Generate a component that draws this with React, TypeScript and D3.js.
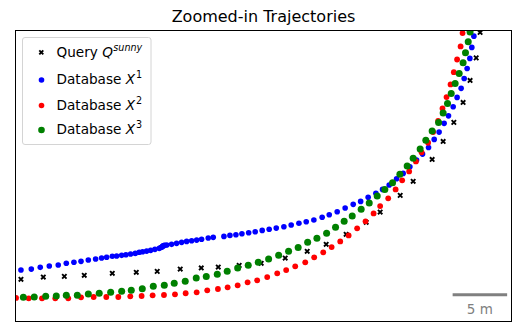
import React, { useEffect, useRef } from 'react';
import * as d3 from 'd3';

// trajectory points, metres (x east, y north)
const queryX = [0.50, 2.55, 4.48, 6.31, 8.88, 11.08, 13.00, 15.11, 17.04, 18.60, 20.52, 22.54, 24.74, 26.76, 28.50, 30.33, 32.17, 33.45, 35.29, 36.48, 38.22, 39.23, 40.21, 41.06, 41.70, 42.26, 42.62];
const queryY = [3.87, 4.08, 4.14, 4.24, 4.42, 4.51, 4.60, 4.81, 4.91, 5.00, 5.15, 5.34, 5.82, 6.44, 7.08, 8.00, 9.10, 10.04, 11.57, 12.86, 14.87, 16.52, 18.27, 20.10, 22.12, 24.19, 26.52];

const db1X = [0.50, 1.45, 2.27, 3.10, 3.92, 4.66, 5.36, 6.01, 6.68, 7.35, 7.90, 8.36, 8.88, 9.28, 9.74, 10.13, 10.56, 10.99, 11.35, 11.66, 12.03, 12.40, 12.79, 13.19, 13.34, 13.43, 13.50, 13.55, 13.62, 13.68, 13.87, 14.32, 14.78, 15.24, 15.70, 16.16, 16.62, 17.07, 17.68, 18.14, 19.12, 19.67, 20.22, 20.77, 21.39, 21.99, 22.63, 23.27, 23.92, 24.62, 25.29, 26.00, 26.67, 27.37, 28.13, 28.78, 29.51, 30.24, 30.98, 31.66, 32.35, 33.06, 33.67, 34.28, 34.96, 35.56, 36.18, 36.79, 37.34, 37.89, 38.41, 38.86, 39.32, 39.72, 40.15, 40.51, 40.88, 41.16, 41.43, 41.68, 41.86, 42.05];
const db1Y = [4.72, 4.81, 4.97, 5.09, 5.18, 5.34, 5.43, 5.52, 5.64, 5.73, 5.82, 5.89, 5.98, 6.01, 6.07, 6.13, 6.19, 6.25, 6.35, 6.40, 6.46, 6.53, 6.62, 6.71, 6.79, 6.83, 6.90, 6.94, 6.97, 7.00, 7.02, 7.08, 7.17, 7.26, 7.35, 7.41, 7.47, 7.54, 7.66, 7.72, 7.81, 7.90, 7.96, 8.05, 8.14, 8.23, 8.36, 8.46, 8.57, 8.69, 8.85, 9.01, 9.15, 9.31, 9.56, 9.79, 10.07, 10.41, 10.75, 11.02, 11.39, 11.76, 12.12, 12.52, 13.10, 13.59, 14.20, 14.81, 15.36, 15.97, 16.71, 17.38, 18.18, 18.87, 19.70, 20.56, 21.39, 22.30, 23.22, 24.14, 25.15, 26.18];

const db2X = [0.05, 1.21, 2.43, 3.65, 4.84, 6.01, 7.17, 8.33, 9.43, 10.53, 11.57, 12.58, 13.62, 14.63, 15.61, 16.62, 17.59, 18.57, 19.46, 20.38, 21.29, 22.17, 23.09, 24.01, 24.83, 25.66, 26.58, 27.40, 28.23, 29.00, 29.79, 30.56, 31.34, 32.11, 32.85, 33.45, 34.19, 34.87, 35.47, 36.11, 36.73, 37.25, 37.85, 38.31, 38.77, 39.17, 39.54, 39.91, 40.21, 40.51, 40.83, 41.01];
const db2Y = [2.16, 2.13, 2.13, 2.13, 2.13, 2.22, 2.25, 2.25, 2.25, 2.31, 2.34, 2.40, 2.43, 2.49, 2.59, 2.68, 2.86, 2.98, 3.14, 3.32, 3.59, 3.78, 4.08, 4.42, 4.72, 5.06, 5.43, 5.89, 6.35, 6.83, 7.35, 7.90, 8.55, 9.19, 9.92, 10.59, 11.30, 12.12, 12.95, 13.77, 14.69, 15.52, 16.40, 17.38, 18.41, 19.55, 20.59, 21.75, 22.88, 24.04, 25.24, 26.46];

const db3X = [0.72, 1.72, 2.77, 3.74, 4.66, 5.67, 6.68, 7.68, 8.73, 9.74, 10.62, 11.63, 12.64, 13.65, 14.56, 15.57, 16.58, 17.50, 18.51, 19.42, 20.38, 21.35, 22.27, 23.22, 24.14, 25.05, 25.93, 26.80, 27.65, 28.54, 29.36, 30.15, 30.89, 31.71, 32.45, 33.18, 33.88, 34.59, 35.26, 35.93, 36.48, 37.12, 37.64, 38.22, 38.81, 39.23, 39.63, 39.97, 40.33, 40.70, 41.06, 41.28, 41.53, 41.70];
const db3Y = [2.22, 2.25, 2.31, 2.34, 2.40, 2.40, 2.52, 2.59, 2.68, 2.77, 2.86, 3.01, 3.23, 3.32, 3.50, 3.69, 3.99, 4.14, 4.33, 4.60, 4.91, 5.15, 5.43, 5.73, 6.07, 6.44, 6.80, 7.26, 7.63, 8.09, 8.64, 9.19, 9.67, 10.29, 10.87, 11.51, 12.12, 12.73, 13.50, 14.26, 14.99, 15.82, 16.62, 17.47, 18.27, 19.12, 20.01, 20.93, 21.84, 22.76, 23.73, 24.65, 25.66, 26.57];

const seriesNames = ['Database', 'Database', 'Database'];
const seriesSups = ['1', '2', '3'];
const seriesColors = ['#0000ff', '#ff0000', '#008000'];
const scaleBarLength = 5; // metres

const W = 520;
const H = 336;
const font = '"DejaVu Sans", sans-serif';

const App = () => {
  const svgRef = useRef(null);

  useEffect(() => {
    const svg = d3.select(svgRef.current);
    svg.selectAll('*').remove();

    const margin = { top: 30.5, right: 8.5, bottom: 14.5, left: 15.5 };
    const x = d3.scaleLinear().domain([0, 45.5]).range([margin.left, W - margin.right]);
    const y = d3.scaleLinear().domain([0, 26.7]).range([H - margin.bottom, margin.top]);

    svg.append('defs').append('clipPath').attr('id', 'plotclip')
      .append('rect')
      .attr('x', x(0)).attr('y', y(26.7))
      .attr('width', x(45.5) - x(0)).attr('height', y(0) - y(26.7));

    // title
    svg.append('text')
      .attr('x', (x(0) + x(45.5)) / 2).attr('y', 22)
      .attr('text-anchor', 'middle')
      .style('font-family', font).style('font-size', '16px')
      .text('Zoomed-in Trajectories');

    const plot = svg.append('g').attr('clip-path', 'url(#plotclip)');

    const xMark = (g, cx, cy, s) => {
      g.append('path')
        .attr('d', `M${cx - s},${cy - s}L${cx + s},${cy + s}M${cx - s},${cy + s}L${cx + s},${cy - s}`)
        .attr('stroke', '#000').attr('stroke-width', 1.9).attr('fill', 'none');
    };

    // query
    queryX.forEach((qx, i) => xMark(plot, x(qx), y(queryY[i]), 2.2));

    // databases
    const dbs = [[db1X, db1Y, 2.8], [db2X, db2Y, 2.9], [db3X, db3Y, 3.5]];
    dbs.forEach(([xs, ys, r], k) => {
      plot.append('g').selectAll('circle')
        .data(xs)
        .join('circle')
        .attr('cx', d => x(d))
        .attr('cy', (d, i) => y(ys[i]))
        .attr('r', r)
        .attr('fill', seriesColors[k]);
    });

    // scale bar
    const barEnd = 45.1;
    const barY = y(2.46);
    svg.append('line')
      .attr('x1', x(barEnd - scaleBarLength)).attr('x2', x(barEnd))
      .attr('y1', barY).attr('y2', barY)
      .attr('stroke', '#808080').attr('stroke-width', 3);
    svg.append('text')
      .attr('x', x(barEnd - scaleBarLength / 2)).attr('y', barY + 19.5)
      .attr('text-anchor', 'middle')
      .attr('fill', '#808080')
      .style('font-family', font).style('font-size', '13.5px')
      .text(`${scaleBarLength} m`);

    // frame
    svg.append('rect')
      .attr('x', x(0)).attr('y', y(26.7))
      .attr('width', x(45.5) - x(0)).attr('height', y(0) - y(26.7))
      .attr('fill', 'none').attr('stroke', '#000').attr('stroke-width', 1);

    // legend
    const lg = svg.append('g');
    lg.append('rect')
      .attr('x', 22.5).attr('y', 37.5).attr('width', 128.5).attr('height', 107)
      .attr('rx', 2.5)
      .attr('fill', '#fff').attr('fill-opacity', 0.8)
      .attr('stroke', '#d4d4d4').attr('stroke-width', 1);

    const rowY = [52.3, 80, 105.5, 130];
    const baseY = [56.5, 84.3, 109.5, 134.3];
    xMark(lg, 41.3, rowY[0], 2.0);
    const q = lg.append('text').attr('x', 56.5).attr('y', baseY[0])
      .style('font-family', font).style('font-size', '13.6px');
    q.append('tspan').text('Query ');
    q.append('tspan').style('font-style', 'italic').text('Q');
    q.append('tspan').style('font-style', 'italic').style('font-size', '9.6px').attr('dy', -6).attr('dx', 0.5).text('sunny');

    seriesNames.forEach((name, k) => {
      lg.append('circle').attr('cx', 41.5).attr('cy', rowY[k + 1]).attr('r', k === 2 ? 3.3 : 2.8).attr('fill', seriesColors[k]);
      const t = lg.append('text').attr('x', 56.5).attr('y', baseY[k + 1])
        .style('font-family', font).style('font-size', '13.6px');
      t.append('tspan').text(name + ' ');
      t.append('tspan').style('font-style', 'italic').text('X');
      t.append('tspan').style('font-size', '9.6px').attr('dy', -6).attr('dx', 1).text(seriesSups[k]);
    });
  }, []);

  return (
    <svg ref={svgRef} width={W} height={H} style={{ position: 'absolute', left: 0, top: 0, background: '#fff' }}></svg>
  );
};

export default App;
